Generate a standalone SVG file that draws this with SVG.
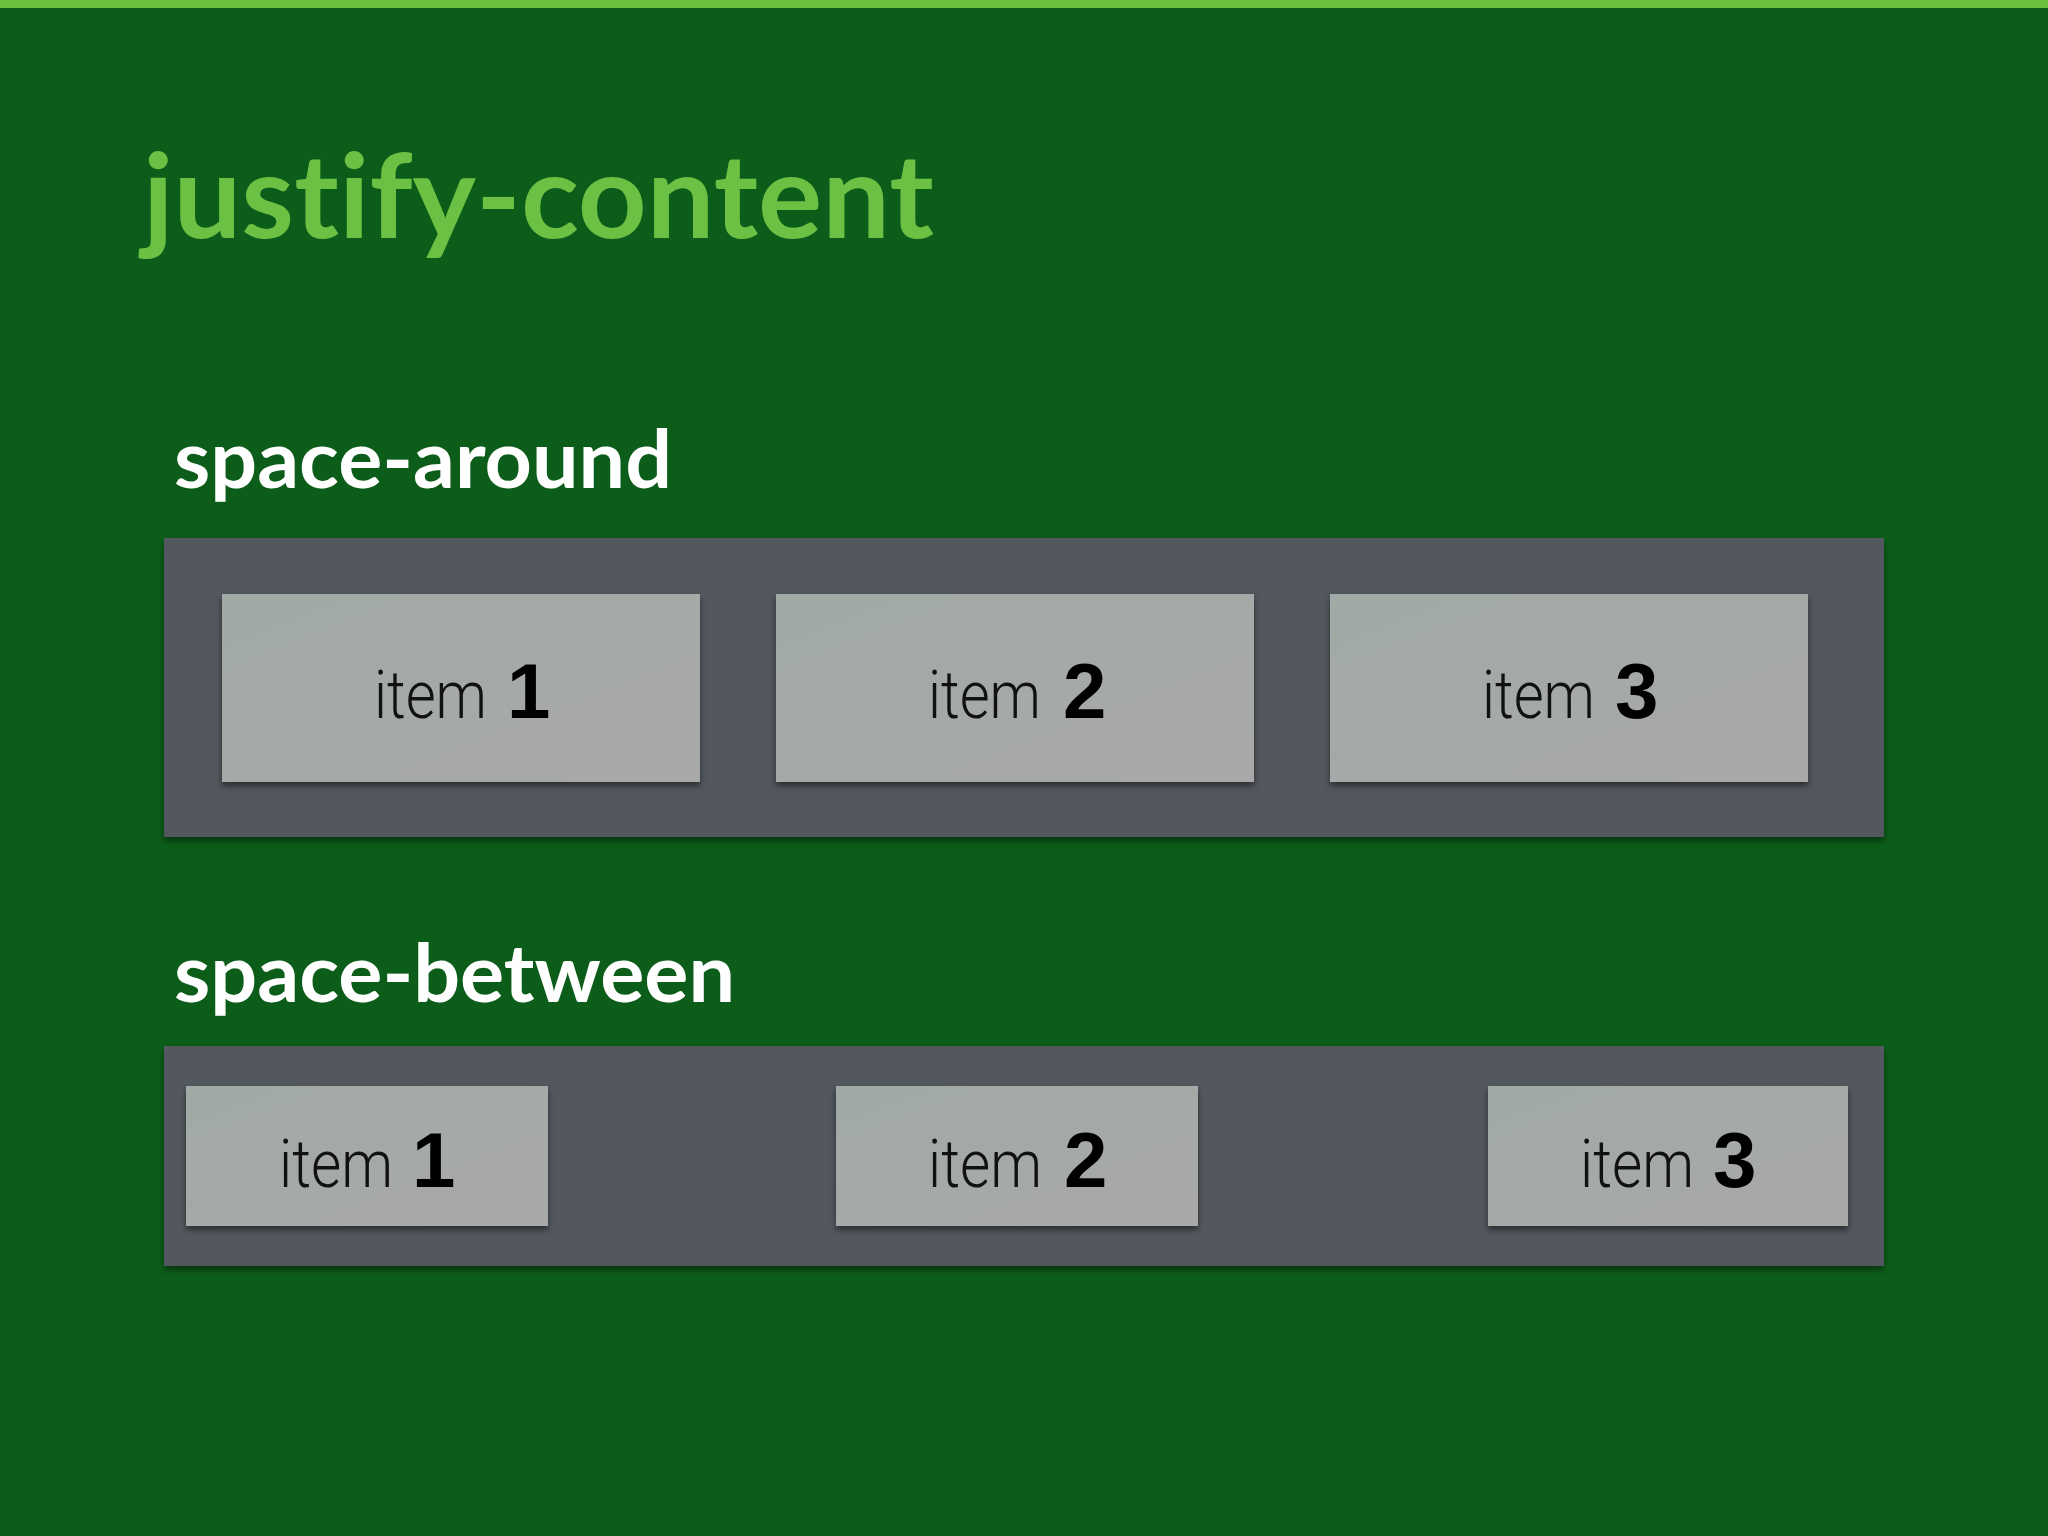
<svg xmlns="http://www.w3.org/2000/svg" width="2048" height="1536" viewBox="0 0 2048 1536">
<defs>
<style>
.title{font-family:Lato,"Noto Sans","Liberation Sans",sans-serif;font-weight:700;fill:#6cc043;font-variant-ligatures:none}
.sub{font-family:Lato,"Noto Sans","Liberation Sans",sans-serif;font-weight:700;fill:#ffffff;font-variant-ligatures:none}
.box{fill:#53585f}
.item{fill:url(#ig)}
.w{font-family:Roboto,"Liberation Sans",sans-serif;font-weight:300;font-size:66px;fill:#111111}
.n{font-family:"Liberation Sans",Arial,sans-serif;font-weight:700;font-size:78px;fill:#000000}
</style>
<linearGradient id="ig" x1="0" y1="0" x2="1" y2="1">
<stop offset="0" stop-color="#a1aaa6"/>
<stop offset="1" stop-color="#a8a8a8"/>
</linearGradient>
<filter id="sh" x="-5%" y="-10%" width="110%" height="125%">
<feDropShadow dx="0" dy="4" stdDeviation="3" flood-color="#000" flood-opacity="0.45"/>
</filter>
<filter id="sh2" x="-5%" y="-10%" width="110%" height="125%">
<feDropShadow dx="0" dy="4" stdDeviation="3" flood-color="#000" flood-opacity="0.5"/>
</filter>
</defs>
<rect x="0" y="0" width="2048" height="1536" fill="#0c5d19"/>
<rect x="0" y="0" width="2048" height="8" fill="#6cbf3f"/>
<text class="title" x="143" y="238" font-size="116" textLength="791" lengthAdjust="spacingAndGlyphs">justify-content</text>

<text class="sub" x="174" y="488" font-size="80" textLength="498" lengthAdjust="spacingAndGlyphs">space-around</text>
<g id="container-around">
<rect class="box" x="164" y="538" width="1720" height="299" filter="url(#sh)"/>
</g>
<g id="around-item1">
<rect class="item" x="222" y="594" width="478" height="188" filter="url(#sh2)"/>
<text class="w" x="374" y="718" textLength="113" lengthAdjust="spacingAndGlyphs">item</text>
<text class="n" x="507" y="718">1</text>
</g>
<g id="around-item2">
<rect class="item" x="776" y="594" width="478" height="188" filter="url(#sh2)"/>
<text class="w" x="928" y="718" textLength="113" lengthAdjust="spacingAndGlyphs">item</text>
<text class="n" x="1063" y="718">2</text>
</g>
<g id="around-item3">
<rect class="item" x="1330" y="594" width="478" height="188" filter="url(#sh2)"/>
<text class="w" x="1482" y="718" textLength="113" lengthAdjust="spacingAndGlyphs">item</text>
<text class="n" x="1615" y="718">3</text>
</g>

<text class="sub" x="174" y="1002" font-size="80" textLength="561" lengthAdjust="spacingAndGlyphs">space-between</text>
<g id="container-between">
<rect class="box" x="164" y="1046" width="1720" height="220" filter="url(#sh)"/>
</g>
<g id="between-item1">
<rect class="item" x="186" y="1086" width="362" height="140" filter="url(#sh2)"/>
<text class="w" x="279" y="1187" textLength="114" lengthAdjust="spacingAndGlyphs">item</text>
<text class="n" x="412" y="1187">1</text>
</g>
<g id="between-item2">
<rect class="item" x="836" y="1086" width="362" height="140" filter="url(#sh2)"/>
<text class="w" x="928" y="1187" textLength="114" lengthAdjust="spacingAndGlyphs">item</text>
<text class="n" x="1064" y="1187">2</text>
</g>
<g id="between-item3">
<rect class="item" x="1488" y="1086" width="360" height="140" filter="url(#sh2)"/>
<text class="w" x="1580" y="1187" textLength="114" lengthAdjust="spacingAndGlyphs">item</text>
<text class="n" x="1713" y="1187">3</text>
</g>
<g id="connectors"/>
</svg>
